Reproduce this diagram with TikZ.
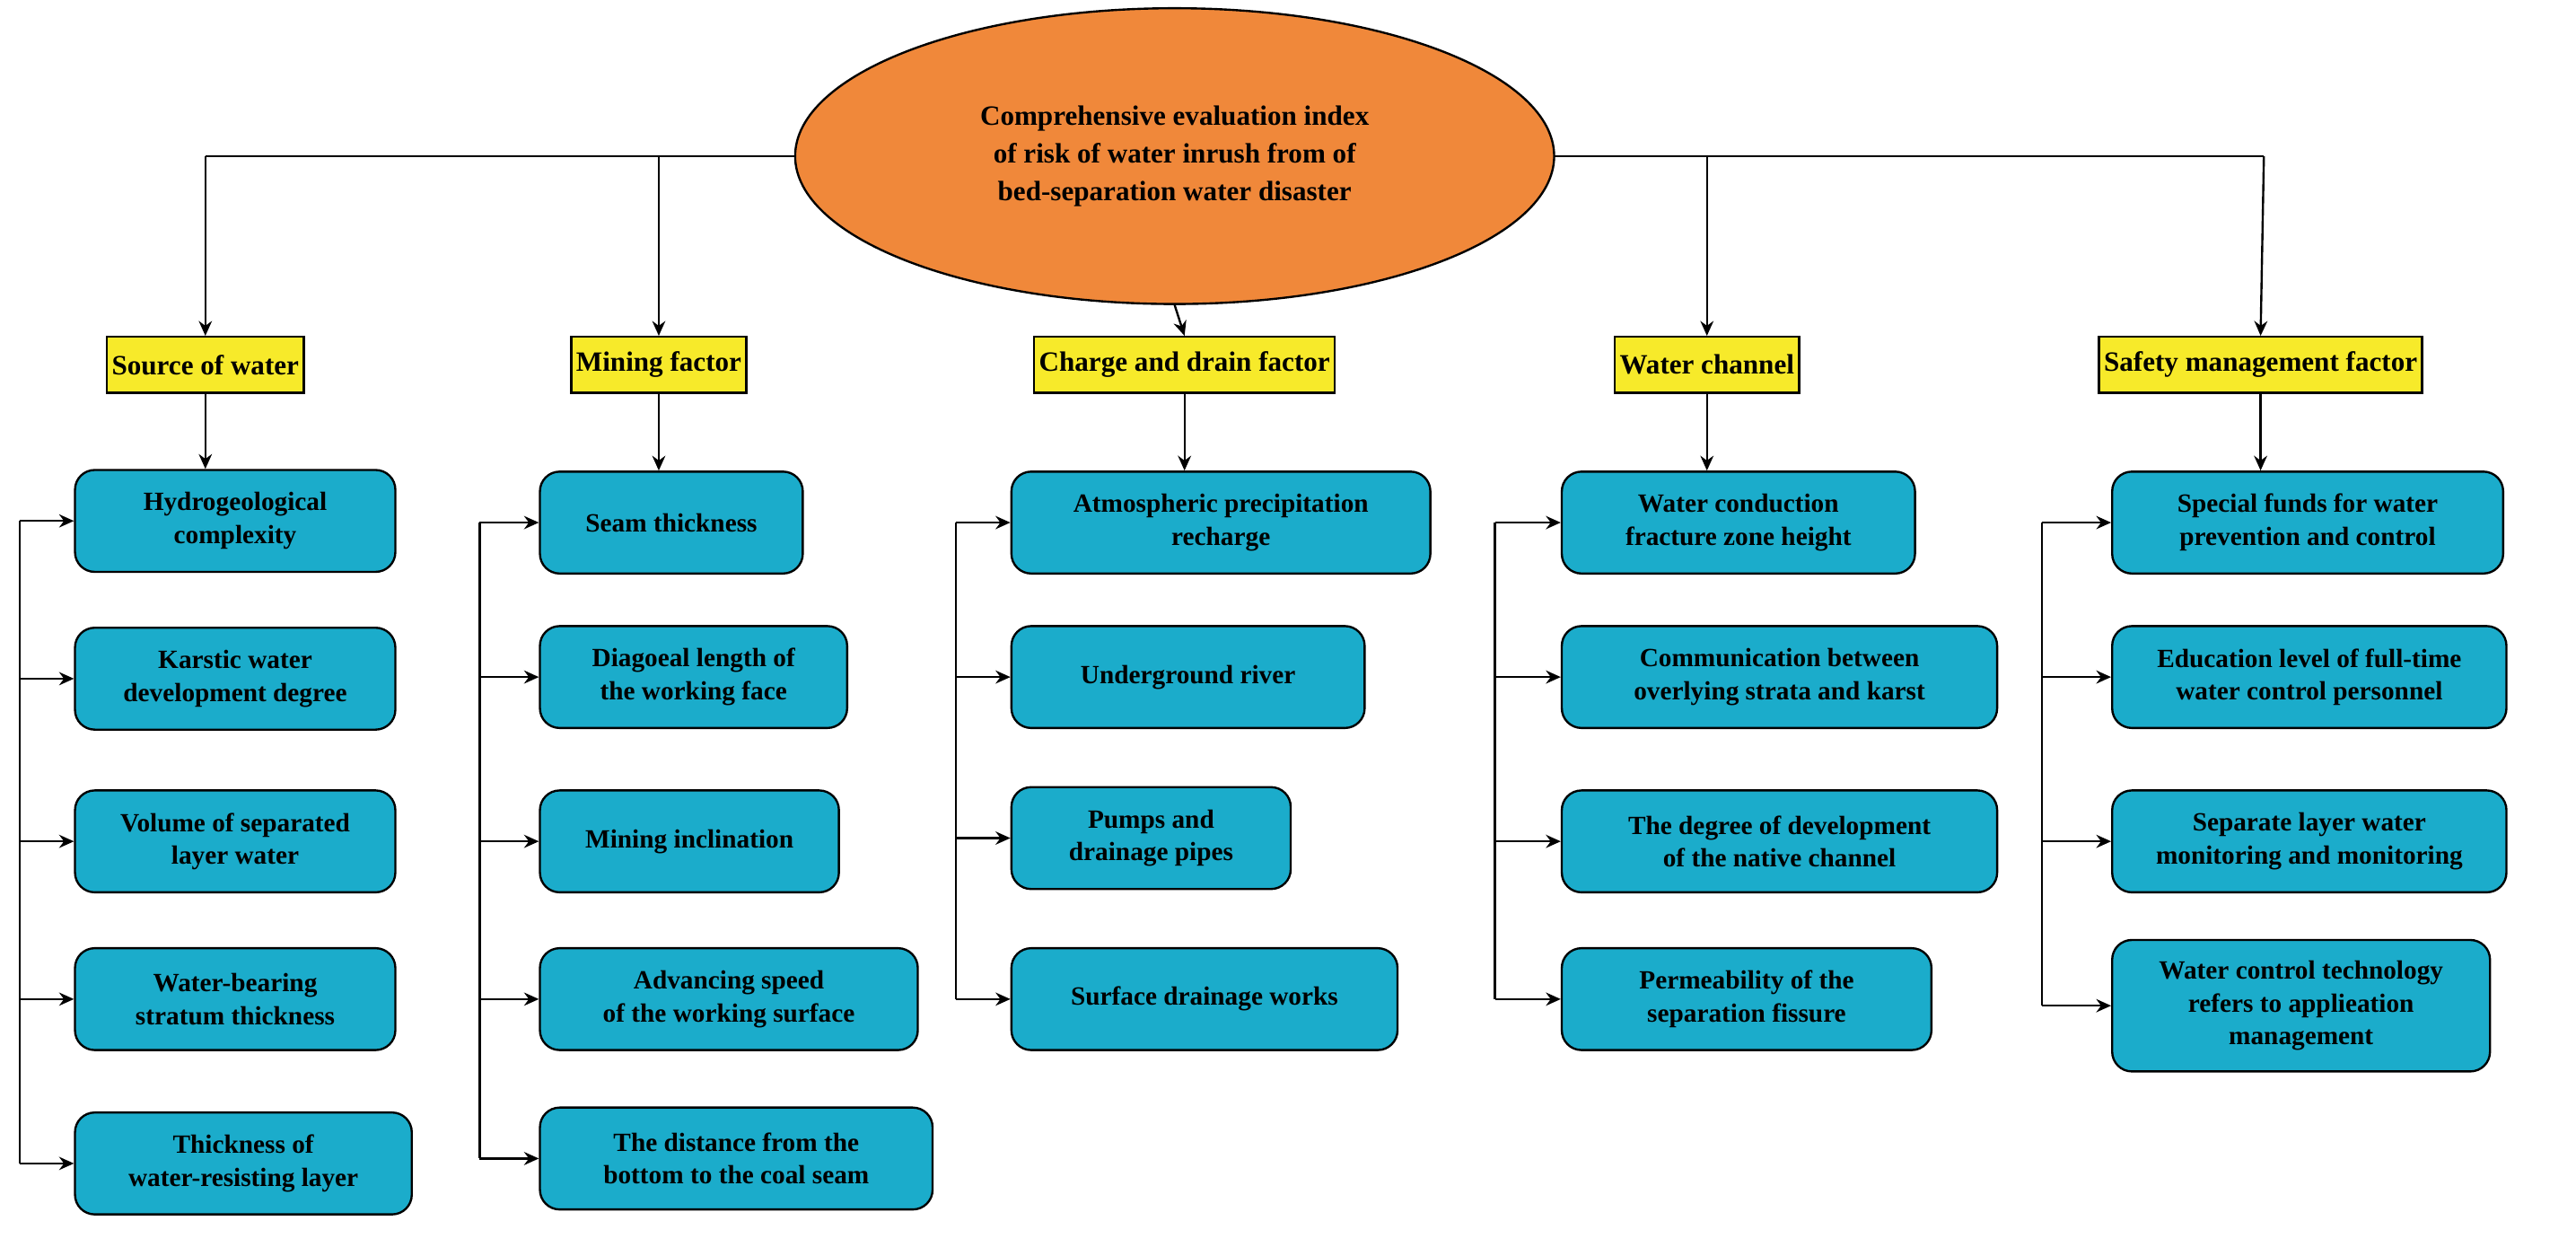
\documentclass[tikz,border=0pt]{standalone}
\usepackage{fontspec}
\setmainfont{Liberation Serif}
\usetikzlibrary{shapes.geometric,arrows.meta}
\definecolor{cor}{HTML}{F0883A}
\definecolor{cyl}{HTML}{F7EA2A}
\definecolor{cbl}{HTML}{1BACCB}
\tikzset{
  ln/.style={line width=1.3pt, -{Stealth[length=9pt,width=8pt]}},
  top/.style={draw, line width=1.3pt, fill=cyl, inner xsep=3pt, minimum height=34pt, font=\fontsize{17}{19}\selectfont\bfseries},
  item/.style={draw, line width=1.3pt, fill=cbl, rounded corners=12pt, anchor=west, minimum height=62pt, align=center, inner xsep=2pt, font=\fontsize{16}{20}\selectfont\bfseries},
}
\begin{document}
\begin{tikzpicture}[x=1pt,y=-1pt]
        \useasboundingbox (0,0) rectangle (1568,764);
        \coordinate (L) at (125,95);
        \coordinate (R) at (1378,95);
        \draw [line width=1.3pt] (L) -- (R);
        \node [ellipse, draw, line width=1.3pt, fill=cor, minimum width=462pt, minimum height=180pt, align=center, inner sep=0pt, font=\fontsize{17}{23}\selectfont\bfseries] (root) at (715,95) {Comprehensive evaluation index\\of risk of water inrush from of\\bed-separation water disaster};
        % first level
        \node [top] (f1) at (125,222) {Source of water};
        \node [top] (f2) at (401,222) {Mining factor};
        \node [top] (f3) at (721,222) {Charge and drain factor};
        \node [top] (f4) at (1039,222) {Water channel};
        \node [top] (f5) at (1376,222) {Safety management factor};
        \draw [ln] (L) -- (f1.north);
        \draw [ln] (f2.north |- L) -- (f2.north);
        \draw [ln] (root.south) -- (f3.north);
        \draw [ln] (f4.north |- L) -- (f4.north);
        \draw [ln] (R) -- (f5.north);
        % column 1
        \node [item, minimum width=195pt] (a1) at (45,317) {Hydrogeological\\complexity};
        \node [item, minimum width=195pt] (a2) at (45,413) {Karstic water\\development degree};
        \node [item, minimum width=195pt] (a3) at (45,512) {Volume of separated\\layer water};
        \node [item, minimum width=195pt] (a4) at (45,608) {Water-bearing\\stratum thickness};
        \node [item, minimum width=205pt] (a5) at (45,708) {Thickness of\\water-resisting layer};
        % column 2
        \node [item, minimum width=160pt] (b1) at (328,318) {Seam thickness};
        \node [item, minimum width=187pt] (b2) at (328,412) {Diagoeal length of\\the working face};
        \node [item, minimum width=182pt] (b3) at (328,512) {Mining inclination};
        \node [item, minimum width=230pt] (b4) at (328,608) {Advancing speed\\of the working surface};
        \node [item, minimum width=239pt] (b5) at (328,705) {The distance from the\\bottom to the coal seam};
        % column 3
        \node [item, minimum width=255pt] (c1) at (615,318) {Atmospheric precipitation\\recharge};
        \node [item, minimum width=215pt] (c2) at (615,412) {Underground river};
        \node [item, minimum width=170pt] (c3) at (615,510) {Pumps and\\drainage pipes};
        \node [item, minimum width=235pt] (c4) at (615,608) {Surface drainage works};
        % column 4
        \node [item, minimum width=215pt] (d1) at (950,318) {Water conduction\\fracture zone height};
        \node [item, minimum width=265pt] (d2) at (950,412) {Communication between\\overlying strata and karst};
        \node [item, minimum width=265pt] (d3) at (950,512) {The degree of development\\of the native channel};
        \node [item, minimum width=225pt] (d4) at (950,608) {Permeability of the\\separation fissure};
        % column 5
        \node [item, minimum width=238pt] (e1) at (1285,318) {Special funds for water\\prevention and control};
        \node [item, minimum width=240pt] (e2) at (1285,412) {Education level of full-time\\water control personnel};
        \node [item, minimum width=240pt] (e3) at (1285,512) {Separate layer water\\monitoring and monitoring};
        \node [item, minimum width=230pt, minimum height=80pt] (e4) at (1285,612) {Water control technology\\refers to applieation\\management};
        % links
        \draw [ln] (f1.south) -- (f1.south |- a1.north);
        \draw [ln] (f2.south) -- (f2.south |- b1.north);
        \draw [ln] (f3.south) -- (f3.south |- c1.north);
        \draw [ln] (f4.south) -- (f4.south |- d1.north);
        \draw [ln] (f5.south) -- (f5.south |- e1.north);
        \coordinate (s1) at (12,317);
        \coordinate (s2) at (292,318);
        \coordinate (s3) at (582,318);
        \coordinate (s4) at (910,318);
        \coordinate (s5) at (1243,318);
        \draw [line width=1.3pt] (s1) -- (s1 |- a5.west);
        \draw [line width=1.3pt] (s2) -- (s2 |- b5.west);
        \draw [line width=1.3pt] (s3) -- (s3 |- c4.west);
        \draw [line width=1.3pt] (s4) -- (s4 |- d4.west);
        \draw [line width=1.3pt] (s5) -- (s5 |- e4.west);
        \draw [ln] (s1) -- (a1.west);
        \draw [ln] (s1 |- a2.west) -- (a2.west);
        \draw [ln] (s1 |- a3.west) -- (a3.west);
        \draw [ln] (s1 |- a4.west) -- (a4.west);
        \draw [ln] (s1 |- a5.west) -- (a5.west);
        \draw [ln] (s2) -- (b1.west);
        \draw [ln] (s2 |- b2.west) -- (b2.west);
        \draw [ln] (s2 |- b3.west) -- (b3.west);
        \draw [ln] (s2 |- b4.west) -- (b4.west);
        \draw [ln] (s2 |- b5.west) -- (b5.west);
        \draw [ln] (s3) -- (c1.west);
        \draw [ln] (s3 |- c2.west) -- (c2.west);
        \draw [ln] (s3 |- c3.west) -- (c3.west);
        \draw [ln] (s3 |- c4.west) -- (c4.west);
        \draw [ln] (s4) -- (d1.west);
        \draw [ln] (s4 |- d2.west) -- (d2.west);
        \draw [ln] (s4 |- d3.west) -- (d3.west);
        \draw [ln] (s4 |- d4.west) -- (d4.west);
        \draw [ln] (s5) -- (e1.west);
        \draw [ln] (s5 |- e2.west) -- (e2.west);
        \draw [ln] (s5 |- e3.west) -- (e3.west);
        \draw [ln] (s5 |- e4.west) -- (e4.west);
    \end{tikzpicture}
\end{document}
